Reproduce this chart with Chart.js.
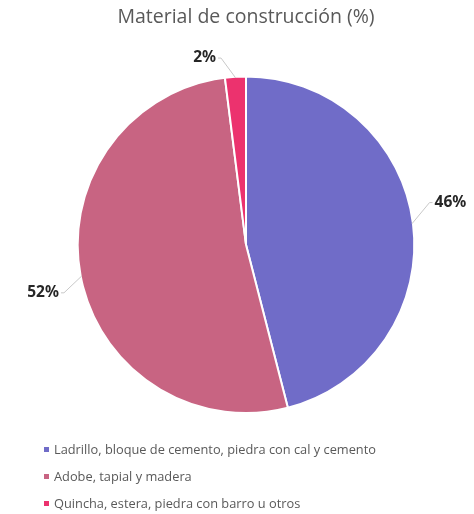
<!DOCTYPE html>
<html>
<head>
<meta charset="utf-8">
<script src="https://cdn.jsdelivr.net/npm/chart.js@4"></script>
<style>
  body { margin: 0; background: #fff; }
  #wrap { position: relative; width: 474px; height: 514px; }
  #legend { position: absolute; left: 44px; top: 440px; font-family: "Open Sans", sans-serif; font-size: 12.8px; color: #595959; }
  #legend div { height: 27px; line-height: 18px; white-space: nowrap; }
  #legend span { display: inline-block; width: 5px; height: 5px; margin-right: 5px; vertical-align: 2px; }
</style>
</head>
<body>
<div id="wrap">
  <canvas id="pieChart" width="474" height="514"></canvas>
  <div id="legend"></div>
</div>
<script>
var categories = ["Ladrillo, bloque de cemento, piedra con cal y cemento", "Adobe, tapial y madera", "Quincha, estera, piedra con barro u otros"];
var values = [46, 52, 2];
var colors = ['rgb(112, 108, 200)', 'rgb(200, 100, 130)', 'rgb(236, 50, 110)'];

// little plugin for the outside % labels with leader lines
var outLabels = {
    id: 'outLabels',
    afterDatasetsDraw: function(chart, args, opts) {
        var ctx = chart.ctx;
        var meta = chart.getDatasetMeta(0);
        ctx.save();
        meta.data.forEach(function(arc, i) {
            var p = arc.getProps(['x', 'y', 'startAngle', 'endAngle', 'outerRadius']);
            var mid = (p.startAngle + p.endAngle) / 2;
            var shift = opts.shift[i] || 0;
            var a2 = mid + shift;
            var x1 = p.x + Math.cos(mid) * (p.outerRadius - 1);
            var y1 = p.y + Math.sin(mid) * (p.outerRadius - 1);
            var x2 = p.x + Math.cos(a2) * (p.outerRadius + 20);
            var y2 = p.y + Math.sin(a2) * (p.outerRadius + 20);
            var right = Math.cos(a2) >= 0;
            ctx.strokeStyle = '#c8c8c8';
            ctx.lineWidth = 1;
            ctx.beginPath();
            ctx.moveTo(x1, y1);
            ctx.lineTo(x2, y2);
            ctx.lineTo(x2 + (right ? 3 : -3), y2);
            ctx.stroke();
            ctx.fillStyle = '#262626';
            ctx.font = 'bold 15.5px "Noto Sans"';
            ctx.textBaseline = 'middle';
            ctx.textAlign = right ? 'left' : 'right';
            ctx.fillText(values[i] + '%', x2 + (right ? 5 : -5), y2);
        });
        ctx.restore();
    }
};

var ctx = document.getElementById('pieChart').getContext('2d');
var chart = new Chart(ctx, {
    type: 'pie',
    data: {
        labels: categories,
        datasets: [{
            data: values,
            backgroundColor: colors,
            borderColor: '#ffffff',
            borderWidth: 2,
            hoverOffset: 0
        }]
    },
    options: {
        responsive: false,
        animation: false,
        layout: { padding: { left: 76, right: 58, bottom: 100, top: 0 } },
        plugins: {
            legend: { display: false },
            tooltip: { enabled: false },
            title: {
                display: true,
                text: 'Material de construcción (%)',
                color: '#595959',
                font: { family: '"Open Sans"', size: 19.5, weight: 'normal' },
                padding: { top: 6, bottom: 46 }
            },
            outLabels: { shift: [-0.1, -0.07, -0.07] }
        }
    },
    plugins: [outLabels]
});

var lg = document.getElementById('legend');
categories.forEach(function(c, i) {
    var row = document.createElement('div');
    var sw = document.createElement('span');
    sw.style.background = colors[i];
    row.appendChild(sw);
    row.appendChild(document.createTextNode(c));
    lg.appendChild(row);
});
</script>
</body>
</html>
